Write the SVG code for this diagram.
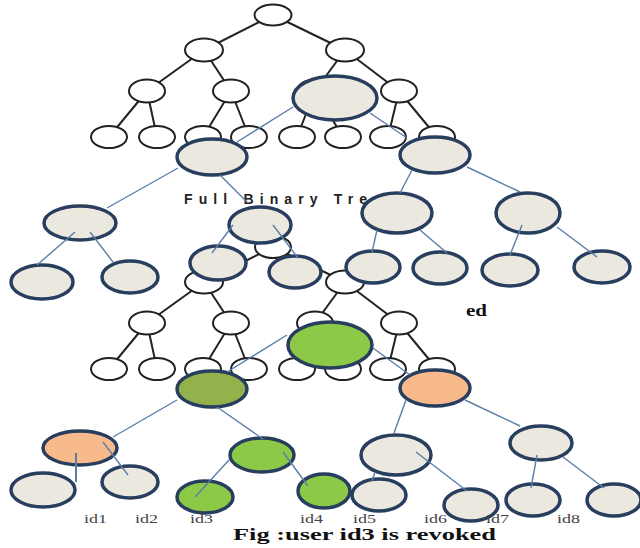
<svg xmlns="http://www.w3.org/2000/svg" width="640" height="548" viewBox="0 0 640 548">
<style>
.w{fill:#fff;stroke:#222;stroke-width:2}
.k{stroke:#222;stroke-width:2;fill:none}
.b{stroke:#5a7ea8;stroke-width:1.4;fill:none}
.n{stroke:#283e5e;stroke-width:3.5}
.bg{fill:#ebe8e0}
.gr{fill:#8cc947}
.ol{fill:#93b24b}
.or{fill:#f8b98b}
.id{font-family:"Liberation Serif",serif;font-size:13px;fill:#444}
</style>
<rect width="640" height="548" fill="#fff"/>

<!-- lower white tree -->
<g id="lower-tree">
<g id="lt-edges" class="k">
<line x1="273" y1="247" x2="204" y2="282"/><line x1="273" y1="247" x2="345" y2="282"/>
<line x1="204" y1="282" x2="147" y2="323"/><line x1="204" y1="282" x2="231" y2="323"/>
<line x1="345" y1="282" x2="315" y2="323"/><line x1="345" y1="282" x2="399" y2="323"/>
<line x1="147" y1="323" x2="109" y2="369"/><line x1="147" y1="323" x2="157" y2="369"/>
<line x1="231" y1="323" x2="203" y2="369"/><line x1="231" y1="323" x2="249" y2="369"/>
<line x1="315" y1="323" x2="297" y2="369"/><line x1="315" y1="323" x2="343" y2="369"/>
<line x1="399" y1="323" x2="388" y2="369"/><line x1="399" y1="323" x2="437" y2="369"/>
</g>
<g id="lt-nodes" class="w">
<ellipse cx="273" cy="247" rx="18" ry="11"/>
<ellipse cx="204" cy="282" rx="19" ry="11.5"/><ellipse cx="345" cy="282" rx="19" ry="11.5"/>
<ellipse cx="147" cy="323" rx="18" ry="11.5"/><ellipse cx="231" cy="323" rx="18" ry="11.5"/>
<ellipse cx="315" cy="323" rx="18" ry="11.5"/><ellipse cx="399" cy="323" rx="18" ry="11.5"/>
<ellipse cx="109" cy="369" rx="18" ry="11"/><ellipse cx="157" cy="369" rx="18" ry="11"/>
<ellipse cx="203" cy="369" rx="18" ry="11"/><ellipse cx="249" cy="369" rx="18" ry="11"/>
<ellipse cx="297" cy="369" rx="18" ry="11"/><ellipse cx="343" cy="369" rx="18" ry="11"/>
<ellipse cx="388" cy="369" rx="18" ry="11"/><ellipse cx="437" cy="369" rx="18" ry="11"/>
</g>
</g>

<!-- lower coloured tree -->
<g id="lower-nodes">
<g id="lc-big"><ellipse class="n gr" cx="330" cy="345" rx="42" ry="23"/></g>
<g id="lc-olive"><ellipse class="n ol" cx="212" cy="389" rx="35" ry="18"/></g>
<g id="lc-orange"><ellipse class="n or" cx="435" cy="388" rx="35" ry="18"/></g>
<g id="lc-orange-left"><ellipse class="n or" cx="80" cy="448" rx="37" ry="17"/></g>
<g id="lc-id1"><ellipse class="n bg" cx="43" cy="490" rx="32" ry="17"/></g>
<g id="lc-id2"><ellipse class="n bg" cx="130" cy="482" rx="28" ry="16"/></g>
<g id="lc-green"><ellipse class="n gr" cx="262" cy="455" rx="32" ry="17"/></g>
<g id="lc-id3"><ellipse class="n gr" cx="205" cy="497" rx="28" ry="16"/></g>
<g id="lc-id4"><ellipse class="n gr" cx="324" cy="491" rx="26" ry="17"/></g>
<g id="lc-mid"><ellipse class="n bg" cx="396" cy="455" rx="35" ry="20"/></g>
<g id="lc-right"><ellipse class="n bg" cx="541" cy="443" rx="31" ry="17"/></g>
<g id="lc-id5"><ellipse class="n bg" cx="379" cy="495" rx="27" ry="16"/></g>
<g id="lc-id6"><ellipse class="n bg" cx="471" cy="505" rx="27" ry="16"/></g>
<g id="lc-id7"><ellipse class="n bg" cx="533" cy="500" rx="27" ry="16"/></g>
<g id="lc-id8"><ellipse class="n bg" cx="614" cy="500" rx="27" ry="16"/></g>
</g>
<g id="lower-connectors" class="b">
<line x1="287" y1="335" x2="227" y2="372"/>
<line x1="373" y1="348" x2="410" y2="375"/>
<line x1="177" y1="400" x2="113" y2="437"/>
<line x1="217" y1="407" x2="263" y2="439"/>
<line x1="76" y1="453" x2="76" y2="482" stroke-width="2"/>
<line x1="103" y1="442" x2="128" y2="475"/>
<line x1="229" y1="460" x2="195" y2="497"/>
<line x1="283" y1="452" x2="308" y2="486"/>
<line x1="406" y1="400" x2="394" y2="433"/>
<line x1="465" y1="400" x2="520" y2="426"/>
<line x1="375" y1="472" x2="372" y2="481"/>
<line x1="416" y1="452" x2="467" y2="491"/>
<line x1="537" y1="455" x2="531" y2="488"/>
<line x1="563" y1="457" x2="604" y2="488"/>
</g>
<g id="labels">
<text class="id" x="84" y="523" textLength="23" lengthAdjust="spacingAndGlyphs">id1</text>
<text class="id" x="135" y="523" textLength="23" lengthAdjust="spacingAndGlyphs">id2</text>
<text class="id" x="190" y="523" textLength="23" lengthAdjust="spacingAndGlyphs">id3</text>
<text class="id" x="300" y="523" textLength="23" lengthAdjust="spacingAndGlyphs">id4</text>
<text class="id" x="353" y="523" textLength="23" lengthAdjust="spacingAndGlyphs">id5</text>
<text class="id" x="424" y="523" textLength="23" lengthAdjust="spacingAndGlyphs">id6</text>
<text class="id" x="486" y="523" textLength="23" lengthAdjust="spacingAndGlyphs">id7</text>
<text class="id" x="557" y="523" textLength="23" lengthAdjust="spacingAndGlyphs">id8</text>
<text x="233" y="540" font-family="Liberation Serif, serif" font-size="16" font-weight="bold" fill="#111" textLength="263" lengthAdjust="spacingAndGlyphs">Fig :user id3 is revoked</text>
<text x="466" y="316" font-family="Liberation Serif, serif" font-size="16" font-weight="bold" fill="#111" textLength="21" lengthAdjust="spacingAndGlyphs">ed</text>
</g>

<!-- upper white tree -->
<g id="upper-tree">
<g id="ut-edges" class="k">
<line x1="273" y1="15" x2="204" y2="50"/><line x1="273" y1="15" x2="345" y2="50"/>
<line x1="204" y1="50" x2="147" y2="91"/><line x1="204" y1="50" x2="231" y2="91"/>
<line x1="345" y1="50" x2="315" y2="91"/><line x1="345" y1="50" x2="399" y2="91"/>
<line x1="147" y1="91" x2="109" y2="137"/><line x1="147" y1="91" x2="157" y2="137"/>
<line x1="231" y1="91" x2="203" y2="137"/><line x1="231" y1="91" x2="249" y2="137"/>
<line x1="315" y1="91" x2="297" y2="137"/><line x1="315" y1="91" x2="343" y2="137"/>
<line x1="399" y1="91" x2="388" y2="137"/><line x1="399" y1="91" x2="437" y2="137"/>
</g>
<g id="ut-nodes" class="w">
<ellipse cx="273" cy="15" rx="18.5" ry="10.5"/>
<ellipse cx="204" cy="50" rx="19" ry="11.5"/><ellipse cx="345" cy="50" rx="19" ry="11.5"/>
<ellipse cx="147" cy="91" rx="18" ry="11.5"/><ellipse cx="231" cy="91" rx="18" ry="11.5"/>
<ellipse cx="315" cy="91" rx="18" ry="11.5"/><ellipse cx="399" cy="91" rx="18" ry="11.5"/>
<ellipse cx="109" cy="137" rx="18" ry="11"/><ellipse cx="157" cy="137" rx="18" ry="11"/>
<ellipse cx="203" cy="137" rx="18" ry="11"/><ellipse cx="249" cy="137" rx="18" ry="11"/>
<ellipse cx="297" cy="137" rx="18" ry="11"/><ellipse cx="343" cy="137" rx="18" ry="11"/>
<ellipse cx="388" cy="137" rx="18" ry="11"/><ellipse cx="437" cy="137" rx="18" ry="11"/>
</g>
</g>

<text x="184" y="204" font-family="Liberation Sans, sans-serif" font-size="14" font-weight="bold" fill="#222" textLength="183" lengthAdjust="spacing">Full Binary Tre</text>

<!-- upper beige tree -->
<g id="upper-nodes" class="n bg">
<g id="u-big"><ellipse cx="335" cy="98" rx="42" ry="22"/></g>
<g id="u-left"><ellipse cx="212" cy="157" rx="35" ry="18"/></g>
<g id="u-right"><ellipse cx="435" cy="155" rx="35" ry="18"/></g>
<g id="u-ll"><ellipse cx="80" cy="223" rx="36" ry="17"/></g>
<g id="u-lr"><ellipse cx="260" cy="225" rx="31" ry="18"/></g>
<g id="u-rl"><ellipse cx="397" cy="213" rx="35" ry="20"/></g>
<g id="u-rr"><ellipse cx="528" cy="213" rx="32" ry="20"/></g>
<g id="u-leaf1"><ellipse cx="42" cy="282" rx="31" ry="17"/></g>
<g id="u-leaf2"><ellipse cx="130" cy="277" rx="28" ry="16"/></g>
<g id="u-leaf3"><ellipse cx="218" cy="263" rx="28" ry="17"/></g>
<g id="u-leaf4"><ellipse cx="295" cy="272" rx="26" ry="16"/></g>
<g id="u-leaf5"><ellipse cx="373" cy="267" rx="27" ry="16"/></g>
<g id="u-leaf6"><ellipse cx="440" cy="268" rx="27" ry="16"/></g>
<g id="u-leaf7"><ellipse cx="510" cy="270" rx="28" ry="16"/></g>
<g id="u-leaf8"><ellipse cx="602" cy="267" rx="28" ry="16"/></g>
</g>
<g id="upper-connectors" class="b">
<line x1="293" y1="107" x2="237" y2="142"/>
<line x1="370" y1="113" x2="407" y2="138"/>
<line x1="178" y1="168" x2="107" y2="208"/>
<line x1="220" y1="175" x2="247" y2="202"/>
<line x1="75" y1="232" x2="37" y2="265"/>
<line x1="90" y1="232" x2="113" y2="262"/>
<line x1="233" y1="225" x2="212" y2="253"/>
<line x1="273" y1="225" x2="298" y2="258"/>
<line x1="412" y1="170" x2="400" y2="193"/>
<line x1="467" y1="167" x2="520" y2="192"/>
<line x1="377" y1="230" x2="372" y2="252"/>
<line x1="420" y1="230" x2="447" y2="253"/>
<line x1="522" y1="225" x2="510" y2="255"/>
<line x1="557" y1="227" x2="597" y2="257"/>
</g>
</svg>
